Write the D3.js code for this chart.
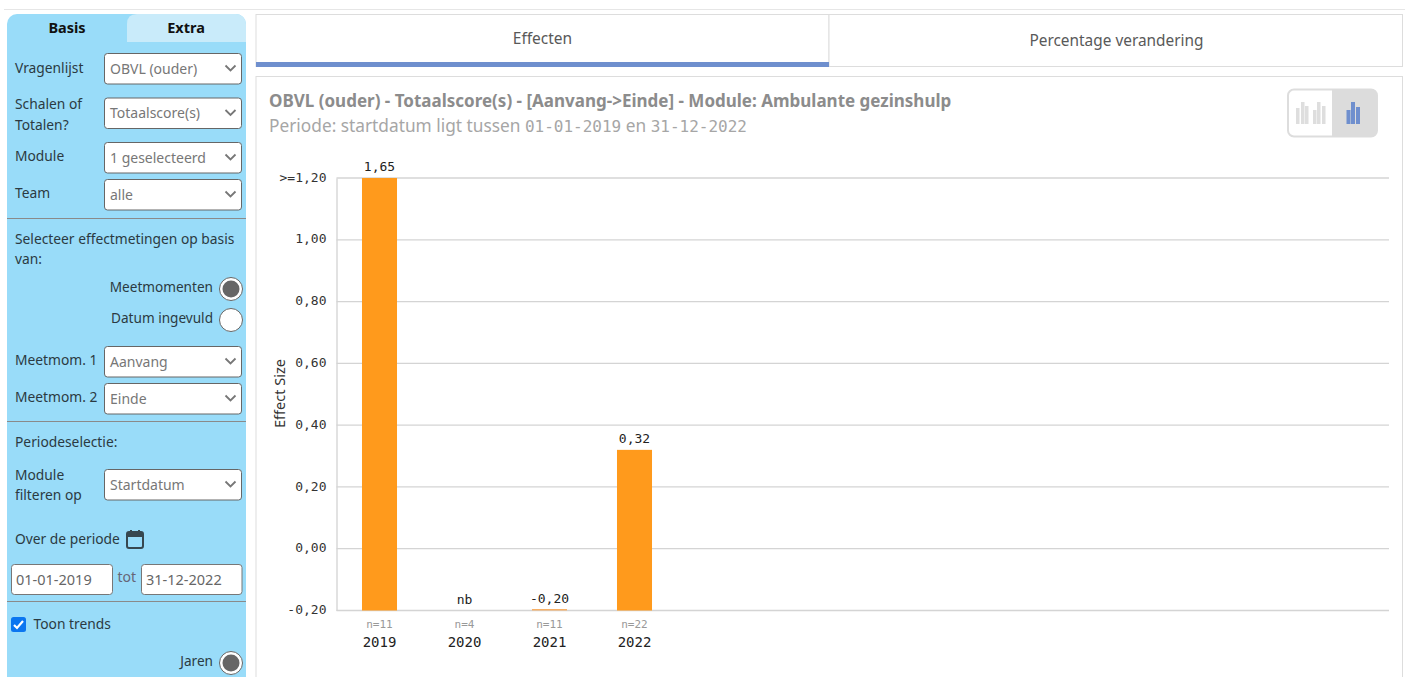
<!DOCTYPE html>
<html><head><meta charset="utf-8">
<script src="https://cdnjs.cloudflare.com/ajax/libs/d3/7.8.5/d3.min.js"></script>
<style>
html,body{margin:0;padding:0;background:#fff;width:1405px;height:677px;overflow:hidden}
svg{position:absolute;left:0;top:0}
text{font-family:"Noto Sans",sans-serif}
</style></head><body>
<svg id="c" width="1405" height="677"></svg>
<script>
const years=["2019","2020","2021","2022"];
const values=[1.65,null,-0.20,0.32];
const valueLabels=["1,65","nb","-0,20","0,32"];
const counts=["n=11","n=4","n=11","n=22"];
const yTicks=[-0.2,0,0.2,0.4,0.6,0.8,1.0,1.2];
const title="OBVL (ouder) - Totaalscore(s) - [Aanvang->Einde] - Module: Ambulante gezinshulp";
const subPrefix="Periode: startdatum ligt tussen ";
const subDate1="01-01-2019";
const subEn=" en ";
const subDate2="31-12-2022";
const selects=[["OBVL (ouder)",53.5],["Totaalscore(s)",98],["1 geselecteerd",142.5],["alle",179.5],["Aanvang",346.5],["Einde",383.5],["Startdatum",469.5]];
const sideLabels=[["Vragenlijst",15,73],["Schalen of",15,109],["Totalen?",15,130],["Module",15,161],["Team",15,198],
["Selecteer effectmetingen op basis",15,244],["van:",15,264],["Meetmom. 1",15,365],["Meetmom. 2",15,402],["Periodeselectie:",15,447],
["Module",15,480],["filteren op",15,500],["Over de periode",15,544],["Toon trends",33.5,629]];
const radios=[["Meetmomenten",289,true],["Datum ingevuld",320,false],["Jaren",663,true]];
const dividers=[218.5,421.5,601.5];
const MONO="'DejaVu Sans Mono',monospace";

const svg=d3.select("#c");
svg.append("line").attr("x1",4).attr("x2",1405).attr("y1",9.5).attr("y2",9.5).attr("stroke","#e6e6e6");
// sidebar
svg.append("path").attr("d","M7,677V24a10,10 0 0 1 10,-10H236a10,10 0 0 1 10,10V677Z").attr("fill","#99dcf9");
svg.append("path").attr("d","M127,42V24q0,-10 10,-10H236a10,10 0 0 1 10,10V42Z").attr("fill","#c9ebfa");
svg.append("text").text("Basis").attr("x",67).attr("y",33).attr("text-anchor","middle").attr("font-weight",700).attr("font-size",14.5).attr("fill","#111");
svg.append("text").text("Extra").attr("x",186).attr("y",33).attr("text-anchor","middle").attr("font-weight",700).attr("font-size",14.5).attr("fill","#111");
svg.selectAll(".sl").data(sideLabels).join("text").attr("class","sl").text(d=>d[0]).attr("x",d=>d[1]).attr("y",d=>d[2]).attr("font-size",13.8).attr("fill","#2b3a42");
svg.selectAll(".dv").data(dividers).join("line").attr("class","dv").attr("x1",7).attr("x2",246).attr("y1",d=>d).attr("y2",d=>d).attr("stroke","#8a8a8a");
const sel=svg.selectAll(".se").data(selects).join("g").attr("class","se").attr("transform",d=>`translate(104.5,${d[1]})`);
sel.append("rect").attr("width",137).attr("height",30.5).attr("rx",3).attr("fill","#fff").attr("stroke","#666");
sel.append("text").text(d=>d[0]).attr("x",5.5).attr("y",20).attr("font-size",14).attr("fill","#777");
sel.append("path").attr("d","M121,12l5,5l5,-5").attr("fill","none").attr("stroke","#777").attr("stroke-width",1.8);
// radios
const rd=svg.selectAll(".rd").data(radios).join("g").attr("class","rd").attr("transform",d=>`translate(231,${d[1]})`);
rd.append("circle").attr("r",11.5).attr("fill","#fff").attr("stroke","#666");
rd.filter(d=>d[2]).append("circle").attr("r",8.5).attr("fill","#666");
rd.append("text").text(d=>d[0]).attr("x",-18).attr("y",3).attr("text-anchor","end").attr("font-size",13.6).attr("fill","#2b3a42");
// calendar icon
const cal=svg.append("g").attr("transform","translate(126,530)");
cal.append("rect").attr("x",1).attr("y",2).attr("width",16).attr("height",16).attr("rx",2).attr("fill","none").attr("stroke","#37474f").attr("stroke-width",2);
cal.append("rect").attr("x",1).attr("y",2).attr("width",16).attr("height",5).attr("fill","#37474f");
cal.append("path").attr("d","M5,0v3M13,0v3").attr("stroke","#37474f").attr("stroke-width",2);
// date inputs
[[11.5,"01-01-2019",101],[141.5,"31-12-2022",100.5]].forEach(d=>{
  svg.append("rect").attr("x",d[0]).attr("y",564.5).attr("width",d[2]).attr("height",30).attr("rx",3).attr("fill","#fff").attr("stroke","#777");
  svg.append("text").text(d[1]).attr("x",d[0]+4.5).attr("y",585).attr("font-size",14.5).attr("fill","#666");
});
svg.append("text").text("tot").attr("x",117.5).attr("y",582).attr("font-size",14).attr("fill","#667");
// checkbox
svg.append("rect").attr("x",11).attr("y",617).attr("width",15).attr("height",15).attr("rx",2.5).attr("fill","#0b76f0");
svg.append("path").attr("d","M14,625l3,3l6,-7").attr("fill","none").attr("stroke","#fff").attr("stroke-width",2.2);
// top tabs
svg.append("rect").attr("x",256).attr("y",14.5).attr("width",573).attr("height",52).attr("fill","#fff").attr("stroke","#ddd");
svg.append("rect").attr("x",829).attr("y",14.5).attr("width",573.5).attr("height",52).attr("fill","#fff").attr("stroke","#ddd");
svg.append("rect").attr("x",256).attr("y",62).attr("width",573).attr("height",5).attr("fill","#6f8fce");
svg.append("text").text("Effecten").attr("x",542.5).attr("y",44).attr("text-anchor","middle").attr("font-size",15.5).attr("fill","#595959");
svg.append("text").text("Percentage verandering").attr("x",1116.5).attr("y",46).attr("text-anchor","middle").attr("font-size",15.4).attr("fill","#595959");
// chart panel
svg.append("rect").attr("x",256).attr("y",76.5).attr("width",1146.5).attr("height",610).attr("fill","#fff").attr("stroke","#ddd");
svg.append("text").text(title).attr("x",269).attr("y",107).attr("font-weight",700).attr("font-size",17).attr("fill","#8c8c8c");
const sub=svg.append("text").attr("x",269).attr("y",132).attr("font-size",17.3).attr("fill","#a6a6a6");
sub.append("tspan").text(subPrefix);
sub.append("tspan").style("font-family",MONO).attr("font-size",16).text(subDate1);
sub.append("tspan").text(subEn);
sub.append("tspan").style("font-family",MONO).attr("font-size",16).text(subDate2);
// toggle
svg.append("rect").attr("x",1288).attr("y",89.5).attr("width",89).attr("height",47).attr("rx",6).attr("fill","#fff").attr("stroke","#ddd").attr("stroke-width",2);
svg.append("path").attr("d","M1332,89H1371a6,6 0 0 1 6,6V131a6,6 0 0 1 -6,6H1332Z").attr("fill","#dcdcdc");
const icon=(x,w,top,color)=>svg.append("rect").attr("x",x).attr("y",top).attr("width",w).attr("height",124-top).attr("fill",color);
[[1296,108],[1301,102],[1305,106],[1313,110],[1317,102],[1322,106]].forEach(d=>icon(d[0],3.5,d[1],"#dedede"));
[[1346.5,110],[1351,102],[1356,107]].forEach(d=>icon(d[0],4,d[1],"#6f8fce"));

// chart
const barColor="#ff9a1c";
const y=d3.scaleLinear().domain([-0.2,1.2]).range([610.5,178]);
const x=d3.scaleBand().domain(years).range([337,677]).paddingInner(0.588).paddingOuter(0.294);
const clamp=v=>Math.min(v,1.2);
const fmt=v=>v.toFixed(2).replace(".",",");
const yAxis=d3.axisLeft(y).tickValues(yTicks).tickSize(0).tickPadding(10)
  .tickFormat(v=>(v===1.2?">=":"")+fmt(v));
const gy=svg.append("g").attr("transform","translate(336.5,0)").call(yAxis);
gy.select(".domain").attr("stroke","#d9d9d9").attr("stroke-width",1.5);
gy.selectAll(".tick text").attr("font-size",13).attr("fill","#333").attr("dy","0.24em").style("font-family",MONO);
svg.append("g").selectAll("line").data(yTicks).join("line")
  .attr("x1",336.5).attr("x2",1389).attr("y1",d=>y(d)).attr("y2",d=>y(d)).attr("stroke","#d4d4d4").attr("stroke-width",1.3);
svg.append("text").text("Effect Size").attr("transform","translate(285,393.5) rotate(-90)").attr("text-anchor","middle").attr("font-size",14.5).attr("fill","#333");
const data=years.map((yr,i)=>({yr,v:values[i],label:valueLabels[i],n:counts[i]}));
svg.append("g").selectAll("rect").data(data.filter(d=>d.v!==null)).join("rect")
  .attr("x",d=>x(d.yr)).attr("width",x.bandwidth())
  .attr("y",d=>d.v<=-0.2?y(d.v)-1.5:y(clamp(d.v)))
  .attr("height",d=>d.v<=-0.2?1.5:y(-0.2)-y(clamp(d.v)))
  .attr("fill",d=>d.v<=-0.2?"#f7b066":barColor);
const mono=s=>s.style("font-family",MONO).attr("text-anchor","middle");
svg.append("g").selectAll("text").data(data).join("text").text(d=>d.label).call(mono)
  .attr("x",d=>x(d.yr)+x.bandwidth()/2)
  .attr("y",d=>d.v===null?y(-0.2)-7:(d.v<=-0.2?y(-0.2)-8:y(clamp(d.v))-7))
  .attr("font-size",13).attr("fill","#222");
svg.append("g").selectAll("text").data(data).join("text").text(d=>d.n).call(mono)
  .attr("x",d=>x(d.yr)+x.bandwidth()/2).attr("y",628).attr("font-size",11).attr("fill","#999");
svg.append("g").selectAll("text").data(data).join("text").text(d=>d.yr).call(mono)
  .attr("x",d=>x(d.yr)+x.bandwidth()/2).attr("y",647).attr("font-size",14).attr("fill","#222");
</script></body></html>
